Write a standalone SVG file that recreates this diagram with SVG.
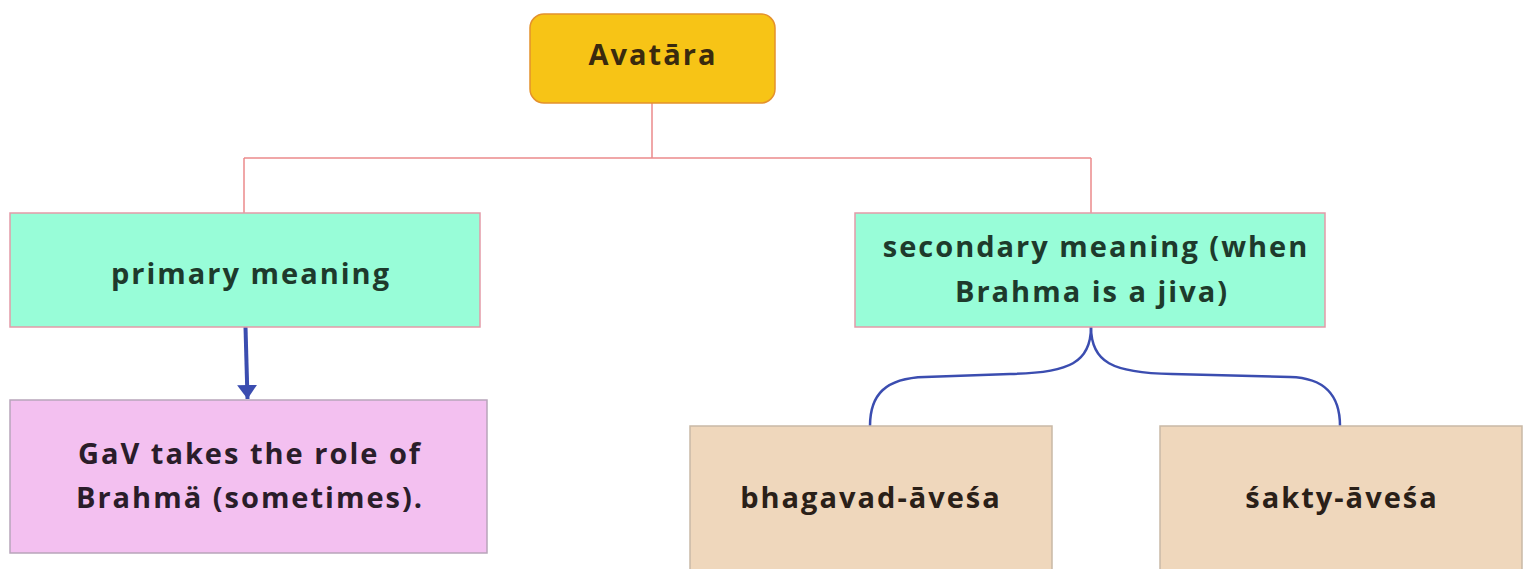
<svg xmlns="http://www.w3.org/2000/svg" width="1533" height="569" viewBox="0 0 1533 569">
<style>
text{font-family:"Open Sans","Liberation Sans",sans-serif;font-weight:700;font-size:29px;letter-spacing:2px;text-anchor:middle}
.g{fill:#1e3a2c}
.p{fill:#2a1d2a}
.b{fill:#2a2018}
.red{fill:none;stroke:#ec8a8c;stroke-width:1.5}
.blue{fill:none;stroke:#3b4db0;stroke-width:2.5}
</style>
<defs>
<marker id="ah" viewBox="0 0 7 10" refX="7" refY="5" markerWidth="3.5" markerHeight="5" orient="auto" markerUnits="strokeWidth">
<path d="M0,0 L7,5 L0,10 Z" fill="#3b4db0"/>
</marker>
</defs>
<rect width="1533" height="569" fill="#ffffff"/>
<g id="connectors">
<path class="red" d="M652,103 V158 M244,158 H1091 M244,158 V213 M1091,158 V213"/>
<path d="M245.5,327 L247.5,399" stroke="#3b4db0" stroke-width="4" fill="none" marker-end="url(#ah)"/>
<path class="blue" d="M1091,327 C1091,362 1070,373 1010,374 L925,377 C885,378 870,395 870,426"/>
<path class="blue" d="M1091,327 C1091,362 1112,373 1172,374 L1290,377 C1325,378 1340,395 1340,426"/>
</g>
<g id="avatara">
<rect x="530" y="14" width="245" height="89" rx="14" fill="#f7c416" stroke="#e4912c" stroke-width="1.5"/>
<text x="653" y="65" fill="#3a2a0e">Avatāra</text>
</g>
<g id="primary">
<rect x="10" y="213" width="470" height="114" fill="#98fdd8" stroke="#e39aa8" stroke-width="1.5"/>
<text class="g" x="251" y="284">primary meaning</text>
</g>
<g id="secondary">
<rect x="855" y="213" width="470" height="114" fill="#98fdd8" stroke="#e39aa8" stroke-width="1.5"/>
<text class="g" x="1096" y="257">secondary meaning (when</text>
<text class="g" x="1092" y="302">Brahma is a jiva)</text>
</g>
<g id="gav">
<rect x="10" y="400" width="477" height="153" fill="#f3c0f0" stroke="#b8a5ba" stroke-width="1.5"/>
<text class="p" x="250" y="464">GaV takes the role of</text>
<text class="p" x="250" y="508">Brahmä (sometimes).</text>
</g>
<g id="bhagavad">
<rect x="690" y="426" width="362" height="150" fill="#efd7bc" stroke="#c9b9a6" stroke-width="1.5"/>
<text class="b" x="871" y="508">bhagavad-āveśa</text>
</g>
<g id="sakty">
<rect x="1160" y="426" width="362" height="150" fill="#efd7bc" stroke="#c9b9a6" stroke-width="1.5"/>
<text class="b" x="1342" y="508">śakty-āveśa</text>
</g>
</svg>
